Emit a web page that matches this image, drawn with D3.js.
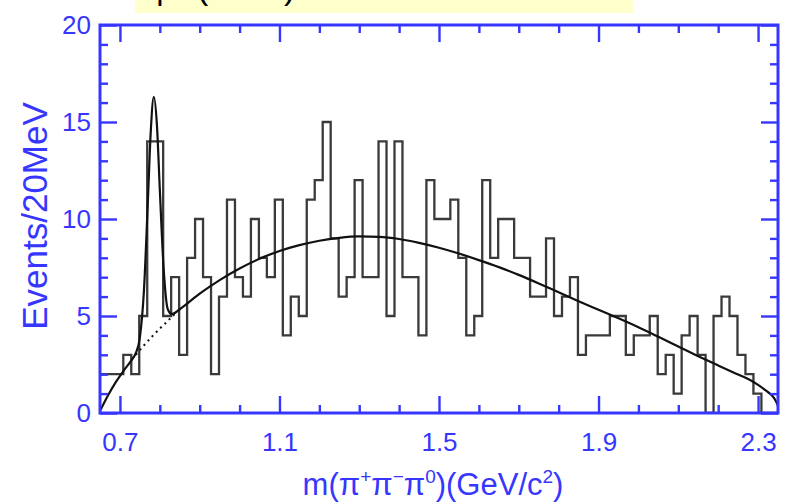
<!DOCTYPE html>
<html>
<head>
<meta charset="utf-8">
<script src="https://cdn.jsdelivr.net/npm/d3@7"></script>
<style>
  html, body { margin: 0; padding: 0; background: #ffffff; }
  svg { display: block; }
  text { font-family: "Liberation Sans", Arial, Helvetica, sans-serif; }
</style>
</head>
<body>
<svg id="chart" width="793" height="504"></svg>
<script>
// ---- data -------------------------------------------------------------
// Events per 20 MeV bin of m(pi+ pi- pi0), in order from the first bin.
const firstBinLow = 0.6484;   // GeV, lower edge of the first bin
const binWidth = 0.02;        // GeV
const counts = [
  2, 2, 2, 3, 2, 5, 14, 14, 5, 7,
  3, 8, 10, 7, 2, 6, 11, 7, 6, 10,
  8, 7, 11, 4, 6, 5, 11, 12, 15, 9,
  6, 7, 12, 7, 7, 14, 5, 14, 7, 7,
  4, 12, 10, 10, 11, 8, 4, 5, 12, 8,
  10, 10, 8, 8, 6, 6, 9, 5, 6, 7,
  3, 4, 4, 4, 5, 5, 3, 4, 4, 5,
  2, 3, 1, 4, 5, 3, 0, 5, 6, 5,
  3, 2, 1, 0, 0
];

// Fit result (omega peak on a smooth background), sampled along the mass axis.
const fitMass = [0.650, 0.670, 0.690, 0.710, 0.730, 0.740, 0.750, 0.760, 0.770, 0.777,
                 0.785, 0.793, 0.800, 0.810, 0.820, 0.830, 0.850, 0.900, 0.950, 1.000,
                 1.050, 1.100, 1.150, 1.200, 1.250, 1.300, 1.350, 1.400, 1.450, 1.500,
                 1.550, 1.600, 1.650, 1.700, 1.750, 1.800, 1.850, 1.900, 1.950, 2.000,
                 2.050, 2.100, 2.150, 2.200, 2.250, 2.280, 2.300, 2.320, 2.335, 2.345, 2.350];
const fitCounts = [0.10, 0.90, 1.60, 2.20, 2.75, 3.10, 3.90, 6.25, 10.9, 14.4,
                   16.3, 14.75, 11.5, 7.30, 5.35, 5.10, 5.35, 6.15, 6.85, 7.45,
                   7.95, 8.35, 8.65, 8.88, 9.03, 9.10, 9.08, 8.97, 8.77, 8.52,
                   8.22, 7.88, 7.52, 7.12, 6.68, 6.22, 5.76, 5.32, 4.88, 4.42,
                   3.93, 3.43, 2.93, 2.45, 1.98, 1.70, 1.45, 1.15, 0.90, 0.60, 0.35];

// Background component under the peak (drawn dotted).
const bgMass = [0.740, 0.760, 0.780, 0.800, 0.820, 0.840];
const bgCounts = [3.00, 3.48, 3.93, 4.35, 4.75, 5.15];

// Axis ticks
const massMajorTicks = [0.7, 1.1, 1.5, 1.9, 2.3];
const massMinorTicks = [0.8, 0.9, 1.0, 1.2, 1.3, 1.4, 1.6, 1.7, 1.8, 2.0, 2.1, 2.2];
const countMajorTicks = [0, 5, 10, 15, 20];
const countMinorTicks = [1, 2, 3, 4, 6, 7, 8, 9, 11, 12, 13, 14, 16, 17, 18, 19];

// ---- layout -------------------------------------------------------------
const blue = "#3636ff";
const plotLeft = 100, plotRight = 778, plotTop = 25, plotBottom = 413;

const svg = d3.select("#chart");

const x = d3.scaleLinear().domain([0.65, 2.35]).range([plotLeft, plotRight]);
const y = d3.scaleLinear().domain([0, 20]).range([plotBottom, plotTop]);

// Title banner at the top edge (only its lower part falls inside the page)
svg.append("rect")
  .attr("x", 135).attr("y", 0).attr("width", 498).attr("height", 13)
  .attr("fill", "#ffffcc");
const banner = svg.append("text")
  .attr("y", -1)
  .attr("font-size", 34)
  .attr("fill", "#000");
banner.append("tspan").attr("x", 149).text("φ");
banner.append("tspan").attr("x", 197).text("(1020)");

// Clip for the data marks
svg.append("defs").append("clipPath").attr("id", "plotArea")
  .append("rect").attr("x", plotLeft).attr("y", plotTop)
  .attr("width", plotRight - plotLeft).attr("height", plotBottom - plotTop);

const marks = svg.append("g").attr("clip-path", "url(#plotArea)");

// Histogram as a step outline
const histPts = [{m: firstBinLow, v: 0}];
counts.forEach((c, i) => {
  histPts.push({m: firstBinLow + i * binWidth, v: c});
});
histPts.push({m: firstBinLow + counts.length * binWidth, v: 0});

marks.append("path")
  .datum(histPts)
  .attr("fill", "none")
  .attr("stroke", "#3a3a3a")
  .attr("stroke-width", 2.3)
  .attr("d", d3.line().x(d => x(d.m)).y(d => y(d.v)).curve(d3.curveStepAfter));

// Background under the peak, dotted
marks.append("path")
  .datum(bgMass.map((m, i) => ({m, v: bgCounts[i]})))
  .attr("fill", "none")
  .attr("stroke", "#111")
  .attr("stroke-width", 2)
  .attr("stroke-dasharray", "2,4")
  .attr("d", d3.line().x(d => x(d.m)).y(d => y(d.v)).curve(d3.curveMonotoneX));

// Full fit curve
marks.append("path")
  .datum(fitMass.map((m, i) => ({m, v: fitCounts[i]})))
  .attr("fill", "none")
  .attr("stroke", "#111")
  .attr("stroke-width", 2.2)
  .attr("d", d3.line().x(d => x(d.m)).y(d => y(d.v)).curve(d3.curveMonotoneX));

// ---- axes ---------------------------------------------------------------
function styleAxis(g) {
  g.select(".domain").remove();
  g.selectAll(".tick line").attr("stroke", blue).attr("stroke-width", 2.4);
  g.selectAll(".tick text").attr("fill", blue).attr("font-size", 26)
    .attr("font-family", "'Liberation Sans', Arial, Helvetica, sans-serif");
}

const major = 17, minor = 8;

// bottom
svg.append("g").attr("transform", `translate(0,${plotBottom})`)
  .call(d3.axisBottom(x).tickValues(massMajorTicks).tickFormat(d3.format(".1f"))
        .tickSizeInner(-major).tickSizeOuter(0).tickPadding(20))
  .call(styleAxis);
svg.append("g").attr("transform", `translate(0,${plotBottom})`)
  .call(d3.axisBottom(x).tickValues(massMinorTicks).tickFormat("")
        .tickSizeInner(-minor).tickSizeOuter(0))
  .call(styleAxis);

// top
svg.append("g").attr("transform", `translate(0,${plotTop})`)
  .call(d3.axisTop(x).tickValues(massMajorTicks).tickFormat("")
        .tickSizeInner(-major).tickSizeOuter(0))
  .call(styleAxis);
svg.append("g").attr("transform", `translate(0,${plotTop})`)
  .call(d3.axisTop(x).tickValues(massMinorTicks).tickFormat("")
        .tickSizeInner(-minor).tickSizeOuter(0))
  .call(styleAxis);

// left
svg.append("g").attr("transform", `translate(${plotLeft},0)`)
  .call(d3.axisLeft(y).tickValues(countMajorTicks).tickFormat(d3.format("d"))
        .tickSizeInner(-major).tickSizeOuter(0).tickPadding(9))
  .call(styleAxis);
svg.append("g").attr("transform", `translate(${plotLeft},0)`)
  .call(d3.axisLeft(y).tickValues(countMinorTicks).tickFormat("")
        .tickSizeInner(-minor).tickSizeOuter(0))
  .call(styleAxis);

// right
svg.append("g").attr("transform", `translate(${plotRight},0)`)
  .call(d3.axisRight(y).tickValues(countMajorTicks).tickFormat("")
        .tickSizeInner(-major).tickSizeOuter(0))
  .call(styleAxis);
svg.append("g").attr("transform", `translate(${plotRight},0)`)
  .call(d3.axisRight(y).tickValues(countMinorTicks).tickFormat("")
        .tickSizeInner(-minor).tickSizeOuter(0))
  .call(styleAxis);

// frame
svg.append("rect")
  .attr("x", plotLeft).attr("y", plotTop)
  .attr("width", plotRight - plotLeft).attr("height", plotBottom - plotTop)
  .attr("fill", "none").attr("stroke", blue).attr("stroke-width", 3);

// ---- axis titles ----------------------------------------------------------
svg.append("text")
  .attr("transform", `translate(47,216) rotate(-90)`)
  .attr("text-anchor", "middle")
  .attr("font-size", 35)
  .attr("fill", blue)
  .text("Events/20MeV");

const xt = svg.append("text")
  .attr("x", 433).attr("y", 495)
  .attr("text-anchor", "middle")
  .attr("font-size", 31)
  .attr("fill", blue);
const parts = [
  ["m(π", 0], ["+", 1], ["π", 0], ["−", 1], ["π", 0], ["0", 1], [")(GeV/c", 0], ["2", 1], [")", 0]
];
let raised = false;
parts.forEach(([s, sup]) => {
  const t = xt.append("tspan").text(s);
  if (sup && !raised) { t.attr("dy", -12).attr("font-size", 19); raised = true; }
  else if (sup) { t.attr("font-size", 19); }
  else if (raised) { t.attr("dy", 12); raised = false; }
});
</script>
</body>
</html>
